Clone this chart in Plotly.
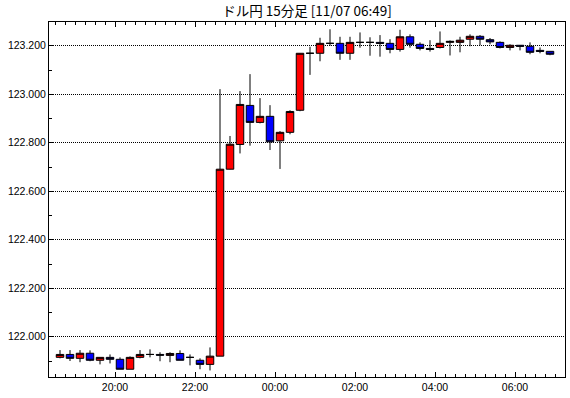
import pandas as pd
import plotly.graph_objects as go

# 15-minute candles, USD/JPY, 2015-11-06 18:30 .. 2015-11-07 06:45 (JST)
start_times = pd.date_range("2015-11-06 18:30", "2015-11-07 06:45", freq="15min")

opens = [121.915, 121.927, 121.911, 121.932, 121.903, 121.915, 121.907, 121.866, 121.915, 121.927,
         121.927, 121.923, 121.931, 121.915, 121.903, 121.886, 121.920, 122.691, 122.793, 122.954,
         122.884, 122.909, 122.808, 122.843, 122.934, 123.169, 123.169, 123.210, 123.210, 123.169,
         123.214, 123.214, 123.214, 123.210, 123.185, 123.237, 123.206, 123.189, 123.193, 123.214,
         123.214, 123.227, 123.239, 123.225, 123.214, 123.193, 123.202, 123.198, 123.181, 123.177]
highs = [121.945, 121.945, 121.945, 121.944, 121.915, 121.927, 121.915, 121.919, 121.945, 121.948,
         121.936, 121.936, 121.944, 121.927, 121.911, 121.956, 123.021, 122.828, 123.013, 123.083,
         122.984, 122.955, 122.848, 122.934, 123.170, 123.196, 123.233, 123.268, 123.237, 123.237,
         123.255, 123.235, 123.244, 123.227, 123.266, 123.247, 123.214, 123.223, 123.259, 123.222,
         123.237, 123.247, 123.244, 123.232, 123.218, 123.206, 123.202, 123.214, 123.193, 123.177]
lows = [121.911, 121.900, 121.895, 121.899, 121.886, 121.890, 121.866, 121.866, 121.911, 121.915,
        121.899, 121.895, 121.903, 121.882, 121.866, 121.861, 121.920, 122.690, 122.756, 122.788,
        122.880, 122.770, 122.692, 122.835, 122.930, 123.080, 123.136, 123.200, 123.142, 123.142,
        123.192, 123.159, 123.155, 123.169, 123.176, 123.192, 123.181, 123.176, 123.189, 123.160,
        123.173, 123.198, 123.202, 123.206, 123.189, 123.181, 123.181, 123.165, 123.169, 123.161]
closes = [121.927, 121.911, 121.932, 121.903, 121.915, 121.907, 121.866, 121.915, 121.927, 121.927,
          121.924, 121.931, 121.903, 121.915, 121.886, 121.920, 122.691, 122.794, 122.958, 122.884,
          122.909, 122.804, 122.843, 122.929, 123.169, 123.169, 123.210, 123.210, 123.169, 123.214,
          123.214, 123.214, 123.210, 123.185, 123.237, 123.206, 123.189, 123.185, 123.210, 123.218,
          123.223, 123.239, 123.227, 123.216, 123.193, 123.202, 123.198, 123.173, 123.177, 123.165]

title_text = "ドル円 15分足 [11/07 06:49]"
y_ticks = [122.0, 122.2, 122.4, 122.6, 122.8, 123.0, 123.2]

# candles are drawn at the middle of their 15-minute period
x_pos = start_times + pd.Timedelta(minutes=7, seconds=30)

fig = go.Figure(go.Candlestick(
    x=x_pos, open=opens, high=highs, low=lows, close=closes,
    increasing=dict(line=dict(color="black", width=1), fillcolor="#ff0000"),
    decreasing=dict(line=dict(color="black", width=1), fillcolor="#0000ff"),
    whiskerwidth=0,
    showlegend=False,
    hoverinfo="skip",
))

font_family = "Liberation Sans, Arial, Noto Sans CJK JP, sans-serif"

fig.update_layout(
    width=570, height=398,
    margin=dict(l=49, r=5, t=22, b=21),
    paper_bgcolor="white", plot_bgcolor="white",
    font=dict(family=font_family, size=10.5, color="black"),
    boxgap=0.25, boxgroupgap=0,
    title=dict(text=title_text, x=0.5, xref="paper", xanchor="center",
               y=1 - 11 / 398, yref="container", yanchor="middle",
               font=dict(family="Noto Sans CJK JP, " + font_family, size=13.5, color="black")),
    xaxis=dict(
        type="date", automargin=False,
        range=["2015-11-06 18:21:00", "2015-11-07 07:15:00"],
        rangeslider=dict(visible=False),
        tick0="2015-11-06 00:00:00", dtick=7200000, tickformat="%H:%M",
        ticks="inside", ticklen=5, tickcolor="black", tickwidth=1,
        showline=True, linecolor="black", linewidth=1, mirror="ticks",
        showgrid=False, zeroline=False,
        minor=dict(dtick=900000, ticks="inside", ticklen=3, tickcolor="black", showgrid=False),
        tickfont=dict(size=10.5, color="black"),
    ),
    yaxis=dict(
        automargin=False,
        range=[121.834, 123.298],
        tickvals=y_ticks, tickformat=".3f",
        ticks="inside", ticklen=5, tickcolor="black", tickwidth=1,
        showline=True, linecolor="black", linewidth=1, mirror=True,
        showgrid=True, gridcolor="black", gridwidth=1, griddash="1px,1px",
        zeroline=False,
        minor=dict(dtick=0.1, tick0=122.0, ticks="inside", ticklen=3, tickcolor="black", showgrid=False),
        tickfont=dict(size=10.5, color="black"),
    ),
)

fig.write_html("out.html", config={"displayModeBar": False},
               post_script="document.body.style.margin='0';")
